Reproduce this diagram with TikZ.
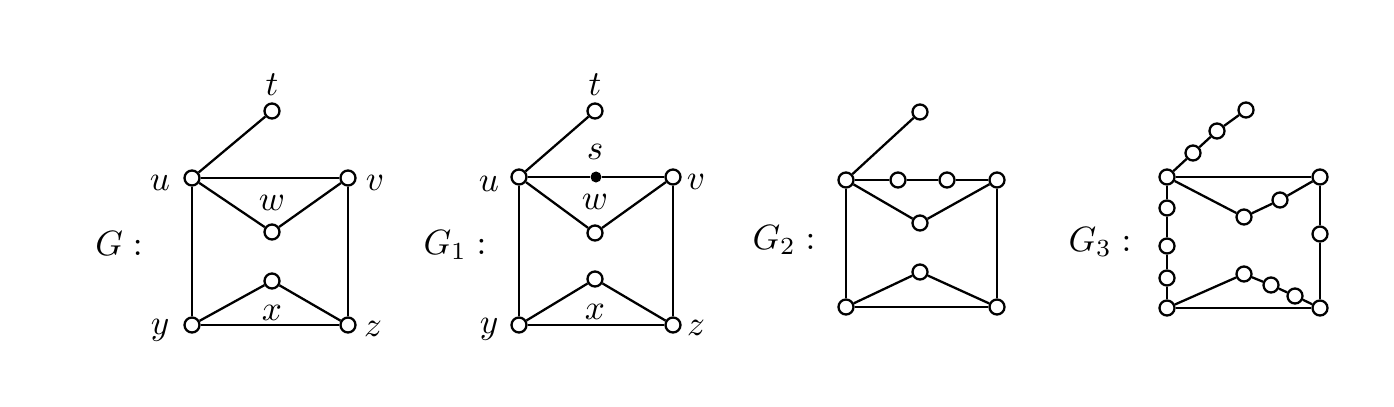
\documentclass[tikz,border=0pt]{standalone}
\usepackage{tikz}
\usetikzlibrary{positioning}
\tikzset{vnode/.style={shape=circle, draw=black, fill=white, line width=0.65pt, inner sep=0pt, minimum size=0.15cm},
  snode/.style={shape=circle, fill=black, inner sep=0pt, minimum size=0.11cm},
  lbl/.style={inner sep=0pt},
  gedge/.style={every edge/.append style={line width=0.65pt}}}

\begin{document}
\begin{tikzpicture}[x=0.01cm, y=-0.01cm]
    \useasboundingbox (0,0) rectangle (1394,406);

    % G
    \node[lbl] (gG) at (119,243) {$G:$};
    \node[vnode] (t0) at (272,111) {};
    \node[vnode] (u0) at (192,178) {};
    \node[vnode] (v0) at (348,178) {};
    \node[vnode] (w0) at (272,232) {};
    \node[vnode] (x0) at (272,281) {};
    \node[vnode] (y0) at (192,325) {};
    \node[vnode] (z0) at (348,325) {};
    \node[lbl] (lt0) at (272,85) {$t$};
    \node[lbl] (lu0) at (160,183) {$u$};
    \node[lbl] (lv0) at (375,183) {$v$};
    \node[lbl] (lw0) at (272,203) {$w$};
    \node[lbl] (lx0) at (272,313) {$x$};
    \node[lbl] (ly0) at (160,330) {$y$};
    \node[lbl] (lz0) at (373,329) {$z$};
    \draw[gedge]
    (u0) edge (t0)
    (u0) edge (v0)
    (u0) edge (w0)
    (w0) edge (v0)
    (u0) edge (y0)
    (v0) edge (z0)
    (y0) edge (x0)
    (x0) edge (z0)
    (y0) edge (z0);

    % G_1
    \node[lbl] (gG1) at (455,245) {$G_1:$};
    \node[vnode] (t1) at (595,111) {};
    \node[vnode] (u1) at (519,177) {};
    \node[snode] (s1) at (596,177) {};
    \node[vnode] (v1) at (673,177) {};
    \node[vnode] (w1) at (595,233) {};
    \node[vnode] (x1) at (595,279) {};
    \node[vnode] (y1) at (519,325) {};
    \node[vnode] (z1) at (673,325) {};
    \node[lbl] (lt1) at (595,85) {$t$};
    \node[lbl] (ls1) at (595,152) {$s$};
    \node[lbl] (lu1) at (489,184) {$u$};
    \node[lbl] (lv1) at (696,182) {$v$};
    \node[lbl] (lw1) at (595,202) {$w$};
    \node[lbl] (lx1) at (595,312) {$x$};
    \node[lbl] (ly1) at (489,329) {$y$};
    \node[lbl] (lz1) at (696,328) {$z$};
    \draw[gedge]
    (u1) edge (t1)
    (u1) edge (s1)
    (s1) edge (v1)
    (u1) edge (w1)
    (w1) edge (v1)
    (u1) edge (y1)
    (v1) edge (z1)
    (y1) edge (x1)
    (x1) edge (z1)
    (y1) edge (z1);

    % G_2
    \node[lbl] (gG2) at (784,240) {$G_2:$};
    \node[vnode] (t2) at (920,112) {};
    \node[vnode] (u2) at (846,180) {};
    \node[vnode] (a2) at (898,180) {};
    \node[vnode] (b2) at (947,180) {};
    \node[vnode] (v2) at (997,180) {};
    \node[vnode] (w2) at (920,223) {};
    \node[vnode] (x2) at (920,272) {};
    \node[vnode] (y2) at (846,307) {};
    \node[vnode] (z2) at (997,307) {};
    \draw[gedge]
    (u2) edge (t2)
    (u2) edge (a2)
    (a2) edge (b2)
    (b2) edge (v2)
    (u2) edge (w2)
    (w2) edge (v2)
    (u2) edge (y2)
    (v2) edge (z2)
    (y2) edge (x2)
    (x2) edge (z2)
    (y2) edge (z2);

    % G_3
    \node[lbl] (gG3) at (1100,242) {$G_3:$};
    \node[vnode] (t3) at (1246,110) {};
    \node[vnode] (ta3) at (1217,131) {};
    \node[vnode] (tb3) at (1193,153) {};
    \node[vnode] (u3) at (1167,177) {};
    \node[vnode] (v3) at (1320,177) {};
    \node[vnode] (wa3) at (1280,200) {};
    \node[vnode] (w3) at (1244,217) {};
    \node[vnode] (la3) at (1167,208) {};
    \node[vnode] (lb3) at (1167,246) {};
    \node[vnode] (lc3) at (1167,278) {};
    \node[vnode] (r3) at (1320,234) {};
    \node[vnode] (x3) at (1244,274) {};
    \node[vnode] (xa3) at (1271,285) {};
    \node[vnode] (xb3) at (1295,296) {};
    \node[vnode] (y3) at (1167,308) {};
    \node[vnode] (z3) at (1320,308) {};
    \draw[gedge]
    (u3) edge (tb3)
    (tb3) edge (ta3)
    (ta3) edge (t3)
    (u3) edge (v3)
    (u3) edge (w3)
    (w3) edge (wa3)
    (wa3) edge (v3)
    (u3) edge (la3)
    (la3) edge (lb3)
    (lb3) edge (lc3)
    (lc3) edge (y3)
    (v3) edge (r3)
    (r3) edge (z3)
    (y3) edge (x3)
    (x3) edge (xa3)
    (xa3) edge (xb3)
    (xb3) edge (z3)
    (y3) edge (z3);
\end{tikzpicture}
\end{document}
